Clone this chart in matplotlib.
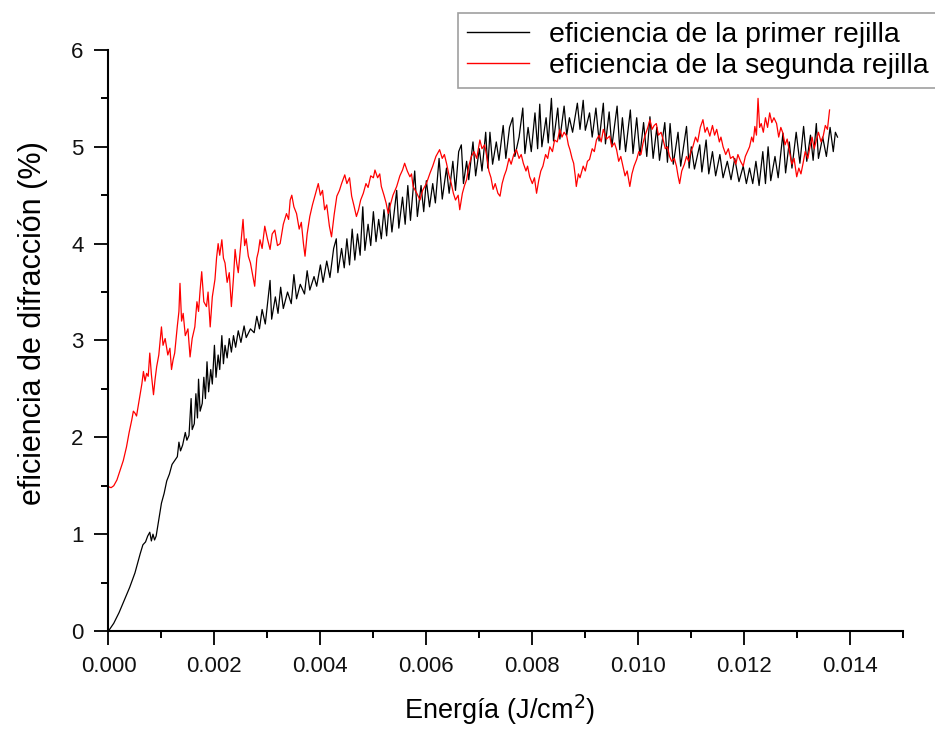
import matplotlib
matplotlib.use("Agg")
import matplotlib.pyplot as plt

# eficiencia de la primer rejilla (black)
energia_1 = [0.0, 0.0001, 0.0002, 0.0003, 0.0004, 0.0005, 0.0006, 0.00065, 0.0007, 0.00074,
             0.00078, 0.00081, 0.00084, 0.00087, 0.0009, 0.00095, 0.001, 0.00105, 0.0011, 0.00115,
             0.0012, 0.00125, 0.0013, 0.00133, 0.00136, 0.0014, 0.00145, 0.00148, 0.00152, 0.00156,
             0.00158, 0.00162, 0.00165, 0.00168, 0.0017, 0.00173, 0.00177, 0.0018, 0.00183, 0.00186,
             0.00189, 0.00193, 0.00196, 0.002, 0.00203, 0.00207, 0.0021, 0.00214, 0.00217, 0.0022,
             0.00224, 0.00228, 0.00232, 0.00236, 0.0024, 0.00245, 0.0025, 0.00256, 0.0026, 0.00268,
             0.00275, 0.0028, 0.00285, 0.0029, 0.00296, 0.00305, 0.00308, 0.00315, 0.0032, 0.00325,
             0.0033, 0.00338, 0.00345, 0.0035, 0.00355, 0.00362, 0.0037, 0.00375, 0.0038, 0.00388,
             0.00393, 0.004, 0.00405, 0.00412, 0.00418, 0.00425, 0.0043, 0.00433, 0.0044, 0.00445,
             0.0045, 0.00455, 0.0046, 0.00465, 0.0047, 0.00475, 0.0048, 0.00484, 0.0049, 0.00495,
             0.005, 0.00505, 0.0051, 0.00515, 0.0052, 0.00525, 0.0053, 0.00535, 0.00544, 0.00548,
             0.00555, 0.0056, 0.00565, 0.0057, 0.00578, 0.00583, 0.0059, 0.00595, 0.006, 0.00606,
             0.00612, 0.00617, 0.00624, 0.0063, 0.00638, 0.00643, 0.0065, 0.00655, 0.00661, 0.00666,
             0.0067, 0.00676, 0.0068, 0.00688, 0.00693, 0.007, 0.00705, 0.00712, 0.00716, 0.0072,
             0.00725, 0.00732, 0.00737, 0.00745, 0.0075, 0.00757, 0.00763, 0.00767, 0.00775, 0.00782,
             0.00786, 0.00792, 0.00798, 0.00805, 0.0081, 0.00814, 0.00818, 0.00826, 0.0083, 0.00836,
             0.0084, 0.00848, 0.00852, 0.0086, 0.00865, 0.0087, 0.00876, 0.00885, 0.0089, 0.00896,
             0.009, 0.00908, 0.00913, 0.0092, 0.00926, 0.00934, 0.00938, 0.00945, 0.0095, 0.0096,
             0.00965, 0.0097, 0.00976, 0.00985, 0.0099, 0.00997, 0.01003, 0.0101, 0.01016, 0.01022,
             0.01028, 0.01035, 0.0104, 0.0105, 0.01055, 0.0106, 0.01066, 0.01075, 0.0108, 0.01091,
             0.01096, 0.011, 0.01106, 0.01116, 0.0112, 0.01128, 0.01133, 0.0114, 0.01146, 0.01154,
             0.0116, 0.01168, 0.01175, 0.01182, 0.0119, 0.01198, 0.01204, 0.0121, 0.01216, 0.01222,
             0.01228, 0.01235, 0.0124, 0.01245, 0.0125, 0.01258, 0.01264, 0.01273, 0.01278, 0.01285,
             0.0129, 0.01298, 0.01305, 0.01312, 0.01318, 0.01325, 0.0133, 0.01336, 0.0134, 0.01348,
             0.01355, 0.01362, 0.01368, 0.01372, 0.01376]
eficiencia_1 = [0.00, 0.08, 0.19, 0.32, 0.45, 0.60, 0.80, 0.89, 0.92, 0.98,
                1.02, 0.93, 1.00, 0.94, 0.98, 1.15, 1.32, 1.42, 1.55, 1.62,
                1.72, 1.76, 1.80, 1.95, 1.86, 1.92, 2.05, 1.97, 2.02, 2.40,
                2.08, 2.14, 2.45, 2.20, 2.60, 2.27, 2.35, 2.62, 2.40, 2.78,
                2.47, 2.70, 2.55, 2.95, 2.62, 2.85, 2.70, 3.05, 2.76, 2.95,
                2.82, 3.02, 2.88, 3.05, 2.93, 3.10, 2.98, 3.15, 3.03, 3.12,
                3.08, 3.25, 3.12, 3.32, 3.17, 3.62, 3.22, 3.45, 3.28, 3.55,
                3.33, 3.50, 3.38, 3.68, 3.43, 3.58, 3.48, 3.72, 3.52, 3.66,
                3.56, 3.78, 3.60, 3.82, 3.65, 3.95, 4.05, 3.70, 3.95, 3.75,
                4.05, 3.78, 4.15, 3.83, 4.10, 3.88, 4.38, 3.93, 4.20, 3.98,
                4.33, 4.02, 4.25, 4.05, 4.35, 4.08, 4.42, 4.12, 4.55, 4.16,
                4.48, 4.20, 4.60, 4.24, 4.75, 4.28, 4.60, 4.33, 4.65, 4.38,
                4.62, 4.42, 4.88, 4.46, 4.78, 4.52, 4.85, 4.55, 4.95, 5.02,
                4.62, 4.85, 4.66, 5.05, 4.70, 4.98, 4.75, 5.15, 4.78, 5.15,
                4.82, 5.05, 4.86, 5.22, 4.88, 5.20, 5.30, 4.90, 5.10, 5.40,
                4.93, 5.20, 4.95, 5.35, 4.98, 5.44, 5.00, 5.30, 5.04, 5.50,
                5.06, 5.40, 5.08, 5.42, 5.12, 5.30, 5.15, 5.45, 5.18, 5.48,
                5.17, 5.35, 5.10, 5.40, 5.06, 5.45, 5.03, 5.36, 5.00, 5.42,
                4.97, 5.30, 4.95, 5.38, 4.93, 5.30, 4.91, 5.25, 4.90, 5.31,
                4.88, 5.20, 4.86, 5.25, 4.84, 5.24, 4.82, 5.15, 4.80, 5.21,
                4.78, 5.00, 4.77, 5.02, 4.74, 5.07, 4.72, 4.95, 4.70, 4.92,
                4.68, 4.85, 4.66, 4.88, 4.64, 4.80, 4.62, 4.78, 4.62, 4.85,
                4.60, 4.95, 4.62, 5.00, 4.65, 4.90, 4.68, 5.14, 4.73, 5.05,
                4.78, 5.15, 4.83, 5.21, 4.85, 5.12, 4.86, 5.24, 4.88, 5.10,
                4.90, 5.20, 4.95, 5.15, 5.10]

# eficiencia de la segunda rejilla (red)
energia_2 = [0.0, 0.00005, 0.0001, 0.00016, 0.00022, 0.00028, 0.00034, 0.00039, 0.00044, 0.00047,
             0.0005, 0.00053, 0.00056, 0.0006, 0.00063, 0.00066, 0.00069, 0.00072, 0.00075, 0.00078,
             0.00081, 0.00085, 0.00088, 0.00091, 0.00095, 0.001, 0.00103, 0.00107, 0.00112, 0.00116,
             0.00119, 0.00122, 0.00125, 0.0013, 0.00133, 0.00135, 0.00138, 0.00141, 0.00145, 0.0015,
             0.00154, 0.00158, 0.00163, 0.00167, 0.0017, 0.00173, 0.00176, 0.0018, 0.00185, 0.00188,
             0.00192, 0.00196, 0.00201, 0.00204, 0.00207, 0.0021, 0.00214, 0.00217, 0.0022, 0.00224,
             0.00228, 0.00232, 0.00236, 0.00239, 0.00242, 0.00245, 0.00249, 0.00254, 0.00257, 0.0026,
             0.00264, 0.00268, 0.00272, 0.00276, 0.0028, 0.00283, 0.00286, 0.0029, 0.00295, 0.003,
             0.00305, 0.00309, 0.00314, 0.00319, 0.00324, 0.0033, 0.00336, 0.0034, 0.00343, 0.00346,
             0.0035, 0.00355, 0.0036, 0.00364, 0.00368, 0.00371, 0.00375, 0.0038, 0.00385, 0.0039,
             0.00396, 0.004, 0.00404, 0.00408, 0.00412, 0.00417, 0.00421, 0.00426, 0.00431, 0.00436,
             0.0044, 0.00446, 0.0045, 0.00455, 0.00459, 0.00463, 0.00468, 0.00472, 0.00476, 0.00481,
             0.00486, 0.0049, 0.00495, 0.005, 0.00503, 0.00508, 0.00512, 0.00515, 0.0052, 0.00524,
             0.00528, 0.00532, 0.00537, 0.00544, 0.0055, 0.00555, 0.00559, 0.00564, 0.00569, 0.00572,
             0.00575, 0.00582, 0.00588, 0.00593, 0.006, 0.00607, 0.00612, 0.00618, 0.00625, 0.0063,
             0.00634, 0.00638, 0.00643, 0.00647, 0.00651, 0.00655, 0.0066, 0.00663, 0.00668, 0.00672,
             0.00676, 0.0068, 0.00685, 0.0069, 0.00695, 0.00701, 0.00705, 0.0071, 0.00714, 0.00718,
             0.00722, 0.00726, 0.0073, 0.00735, 0.00739, 0.00743, 0.00747, 0.00751, 0.00756, 0.0076,
             0.00765, 0.0077, 0.00775, 0.00779, 0.00783, 0.00788, 0.00791, 0.00795, 0.008, 0.00804,
             0.00808, 0.00812, 0.00816, 0.0082, 0.00825, 0.00829, 0.00833, 0.00838, 0.00842, 0.00847,
             0.00852, 0.00856, 0.0086, 0.00865, 0.00868, 0.00871, 0.00875, 0.00878, 0.00881, 0.00883,
             0.00887, 0.0089, 0.00896, 0.009, 0.00904, 0.00908, 0.00913, 0.00917, 0.00921, 0.00926,
             0.0093, 0.00934, 0.0094, 0.00946, 0.0095, 0.00955, 0.00959, 0.00963, 0.00967, 0.00971,
             0.00975, 0.00979, 0.00984, 0.00988, 0.00992, 0.00997, 0.01001, 0.01005, 0.01009, 0.01013,
             0.01018, 0.01022, 0.01026, 0.0103, 0.01034, 0.01038, 0.01043, 0.01047, 0.01051, 0.01055,
             0.01059, 0.01063, 0.01068, 0.01072, 0.01075, 0.01078, 0.01082, 0.01087, 0.01091, 0.01095,
             0.01099, 0.01103, 0.01108, 0.01112, 0.01117, 0.01122, 0.01126, 0.0113, 0.01135, 0.0114,
             0.01144, 0.01148, 0.01153, 0.01156, 0.0116, 0.01165, 0.0117, 0.01174, 0.01179, 0.01184,
             0.01188, 0.01193, 0.01198, 0.01202, 0.01206, 0.0121, 0.01214, 0.01217, 0.0122, 0.01223,
             0.01226, 0.01229, 0.01232, 0.01236, 0.0124, 0.01244, 0.01248, 0.01252, 0.01256, 0.01261,
             0.01265, 0.01269, 0.01273, 0.01277, 0.01281, 0.01286, 0.0129, 0.01294, 0.01299, 0.01303,
             0.01307, 0.01311, 0.01315, 0.0132, 0.01324, 0.01328, 0.01332, 0.01336, 0.0134, 0.01345,
             0.01349, 0.01353, 0.01357, 0.01361]
eficiencia_2 = [1.49, 1.48, 1.50, 1.56, 1.66, 1.76, 1.90, 2.05, 2.18, 2.27,
                2.25, 2.22, 2.32, 2.45, 2.55, 2.68, 2.58, 2.66, 2.63, 2.87,
                2.65, 2.44, 2.60, 2.73, 2.85, 3.14, 2.95, 3.02, 2.85, 2.92,
                2.70, 2.80, 2.87, 3.15, 3.30, 3.59, 3.20, 3.28, 3.05, 3.12,
                2.83, 3.02, 3.14, 3.40, 3.30, 3.52, 3.71, 3.40, 3.35, 3.50,
                3.14, 3.45, 3.63, 3.85, 4.00, 3.88, 4.04, 3.85, 3.80, 3.60,
                3.70, 3.35, 3.65, 3.94, 3.80, 3.70, 3.95, 4.25, 3.98, 4.05,
                3.87, 3.80, 3.68, 3.56, 3.85, 3.92, 4.04, 3.95, 4.18, 4.05,
                3.94, 4.10, 4.14, 3.98, 4.00, 4.20, 4.31, 4.25, 4.45, 4.50,
                4.38, 4.31, 4.15, 4.22, 4.00, 3.87, 4.10, 4.28, 4.40, 4.50,
                4.62, 4.50, 4.55, 4.35, 4.40, 4.18, 4.07, 4.30, 4.49, 4.55,
                4.62, 4.71, 4.62, 4.68, 4.49, 4.40, 4.28, 4.35, 4.45, 4.52,
                4.62, 4.58, 4.70, 4.68, 4.76, 4.68, 4.72, 4.59, 4.50, 4.42,
                4.31, 4.40, 4.50, 4.59, 4.70, 4.76, 4.83, 4.75, 4.69, 4.72,
                4.59, 4.52, 4.45, 4.55, 4.62, 4.73, 4.80, 4.90, 4.97, 4.88,
                4.92, 4.83, 4.70, 4.62, 4.52, 4.45, 4.50, 4.35, 4.52, 4.60,
                4.66, 4.80, 4.90, 4.95, 4.88, 5.07, 4.98, 5.02, 4.90, 4.75,
                4.68, 4.56, 4.62, 4.52, 4.49, 4.62, 4.70, 4.76, 4.88, 4.82,
                4.92, 4.97, 4.88, 4.92, 4.83, 4.75, 4.80, 4.69, 4.62, 4.68,
                4.52, 4.65, 4.75, 4.80, 4.92, 4.88, 5.00, 4.95, 5.07, 5.05,
                5.18, 5.10, 5.15, 5.11, 5.02, 4.97, 4.88, 4.83, 4.70, 4.59,
                4.72, 4.68, 4.80, 4.75, 4.85, 4.87, 4.98, 4.95, 5.07, 5.12,
                5.05, 5.18, 5.08, 5.11, 5.00, 5.04, 4.97, 4.85, 4.90, 4.80,
                4.70, 4.75, 4.59, 4.72, 4.80, 4.87, 4.95, 4.92, 5.04, 5.12,
                5.20, 5.28, 5.18, 5.22, 5.24, 5.12, 5.15, 5.07, 4.98, 5.00,
                4.90, 4.85, 4.88, 4.80, 4.70, 4.62, 4.75, 4.82, 4.90, 4.85,
                4.95, 5.00, 5.10, 5.05, 5.20, 5.28, 5.15, 5.20, 5.11, 5.22,
                5.12, 5.18, 5.05, 5.10, 5.00, 4.92, 4.98, 4.88, 4.90, 4.82,
                4.92, 4.85, 4.80, 4.90, 4.95, 5.00, 5.10, 5.05, 5.21, 5.12,
                5.50, 5.20, 5.24, 5.15, 5.30, 5.20, 5.35, 5.25, 5.30, 5.24,
                5.10, 5.20, 5.14, 5.02, 5.08, 4.93, 4.82, 4.88, 4.69, 4.78,
                4.72, 4.83, 4.95, 4.88, 5.00, 5.10, 4.98, 5.07, 5.15, 5.05,
                5.11, 5.22, 5.18, 5.38]

label_1 = "eficiencia de la primer rejilla"
label_2 = "eficiencia de la segunda rejilla"
x_ticks = [0.000, 0.002, 0.004, 0.006, 0.008, 0.010, 0.012, 0.014]
y_ticks = [0, 1, 2, 3, 4, 5, 6]

plt.rcParams["font.family"] = ["Liberation Sans", "DejaVu Sans"]

fig = plt.figure(figsize=(9.35, 7.3), dpi=100)
ax = fig.add_axes([0.116, 0.1356, 0.850, 0.796])

ax.plot(energia_1, eficiencia_1, color="black", lw=0.9, label=label_1)
ax.plot(energia_2, eficiencia_2, color="red", lw=0.9, label=label_2)

ax.set_xlim(0, 0.015)
ax.set_ylim(0, 6)
ax.set_xticks(x_ticks)
ax.set_xticklabels(["%.3f" % v for v in x_ticks])
ax.set_yticks(y_ticks)
ax.set_xticks([0.001, 0.003, 0.005, 0.007, 0.009, 0.011, 0.013, 0.015], minor=True)
ax.set_yticks([0.5, 1.5, 2.5, 3.5, 4.5, 5.5], minor=True)

for s in ["top", "right"]:
    ax.spines[s].set_visible(False)
for s in ["left", "bottom"]:
    ax.spines[s].set_linewidth(1.5)
ax.tick_params(which="major", direction="out", length=10, width=1.4, labelsize=16,
               colors="#111111", pad=8)
ax.tick_params(which="minor", direction="out", length=5, width=1.4)

ax.set_xlabel("Energía (J/cm$^2$)", fontsize=19.5)
ax.set_ylabel("eficiencia de difracción (%)", fontsize=22)
ax.xaxis.set_label_coords(0.4925, -0.106)
ax.yaxis.set_label_coords(-0.076, 0.53)

leg = ax.legend(loc="upper left", bbox_to_anchor=(0.49, 0.982), bbox_transform=fig.transFigure,
                fontsize=20.5, frameon=True, fancybox=False, borderaxespad=0, borderpad=0.3,
                handlelength=2.2, handletextpad=0.7, labelspacing=0.2)
leg.get_frame().set_edgecolor("#888888")
leg.get_frame().set_linewidth(1.2)
for line in leg.get_lines():
    line.set_linewidth(1.0)

plt.savefig("out.png", dpi=100)
